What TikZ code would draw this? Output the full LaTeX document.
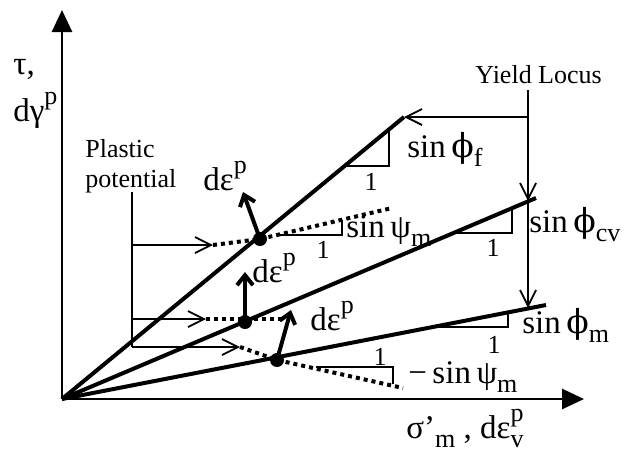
\documentclass[tikz,border=0pt]{standalone}
\usepackage{fontspec}
\setmainfont{Liberation Serif}
\newfontfamily\phif{DejaVu Serif}
\usetikzlibrary{arrows.meta}
\newcommand{\myup}[1]{\raisebox{0.5em}{\fontsize{13}{13}\selectfont #1}}
\newcommand{\mydn}[1]{\raisebox{-0.3em}{\fontsize{13}{13}\selectfont #1}}
\newcommand{\fphi}{{\phif ϕ}}
\begin{document}
\begin{tikzpicture}[x=0.5pt,y=-0.5pt,
  axis/.style={line width=1.4pt,-{Triangle[length=11pt,width=10pt]}},
  mainline/.style={line width=2pt},
  thinline/.style={line width=0.9pt},
  openarrow/.style={line width=0.9pt,-{Straight Barb[length=8pt,width=8pt,line width=0.9pt]}},
  vecarrow/.style={line width=2pt,-{Straight Barb[length=5pt,width=8pt,line width=2pt]}},
  dotline/.style={line width=2pt,dash pattern=on 2pt off 2pt},
  dotpt/.style={circle,fill,inner sep=0pt,minimum size=7pt},
  big/.style={font=\fontsize{16.5}{16.5}\selectfont,inner sep=0pt},
  med/.style={font=\fontsize{13}{15}\selectfont,inner sep=0pt},
  one/.style={font=\fontsize{13}{13}\selectfont,inner sep=0pt}]
\useasboundingbox (0,0) rectangle (625,452);
% axes
\coordinate (O) at (62,399);
\coordinate (Ytop) at (62,10);
\coordinate (Xend) at (584,399);
\draw[axis] (O) -- (Ytop);
\draw[axis] (O) -- (Xend);
% main lines
\coordinate (A) at (404,117);
\coordinate (B) at (536,198);
\coordinate (C) at (546,305);
\draw[mainline] (O) -- (A);
\draw[mainline] (O) -- (B);
\draw[mainline] (O) -- (C);
% slope triangles
\draw[thinline] (345,166) -- (389,166) -- (389,129);
\draw[thinline] (453,233) -- (512,233) -- (512,208);
\draw[thinline] (433,327) -- (508,327) -- (508,312);
\node[one] (o1) at (371,182) {1};
\node[one] (o2) at (493,248) {1};
\node[one] (o3) at (494,345) {1};
\node[big,anchor=base west] (sf) at (407,157) {sin\,\fphi\mydn{f}};
\node[big,anchor=base west] (scv) at (529,232) {sin\,\fphi\mydn{cv}};
\node[big,anchor=base west] (sm) at (522,333) {sin\,\fphi\mydn{m}};
% yield locus
\node[med,anchor=base west] (yl) at (475,83) {Yield Locus};
\coordinate (Y1) at (528,90);
\coordinate (Yc) at (528,117);
\coordinate (Ycv) at (528,201);
\coordinate (Ym) at (528,308);
\draw[thinline] (Y1) -- (Yc);
\draw[openarrow] (Yc) -- (A);
\draw[openarrow] (Yc) -- (Ycv);
\draw[openarrow] (Ycv) -- (Ym);
% plastic potential
\node[med,anchor=base west] (pp1) at (85,157) {Plastic};
\node[med,anchor=base west] (pp2) at (85,187) {potential};
\coordinate (Q0) at (132,192);
\coordinate (Q1) at (132,245);
\coordinate (Q2) at (132,319);
\coordinate (Q3) at (132,347);
\coordinate (R1) at (213,245);
\coordinate (R2) at (206,319);
\coordinate (R3) at (240,347);
\draw[thinline] (Q0) -- (Q3);
\draw[openarrow] (Q1) -- (R1);
\draw[openarrow] (Q2) -- (R2);
\draw[openarrow] (Q3) -- (R3);
% stress points
\coordinate (P1) at (260,239);
\coordinate (P2) at (245,322);
\coordinate (P3) at (277,360);
\coordinate (E1) at (392,208);
\coordinate (E2) at (283,319);
\coordinate (E3) at (403,388);
% plastic potential slope triangles
\draw[thinline] (277,235) -- (342,235) -- (342,220);
\draw[thinline] (316,367) -- (393,367) -- (393,384);
\draw[dotline] (R1) -- (P1) -- (E1);
\draw[dotline] (R2) -- (E2);
\draw[dotline] (R3) -- (P3) -- (E3);
\node[dotpt] (n1) at (P1) {};
\node[dotpt] (n2) at (P2) {};
\node[dotpt] (n3) at (P3) {};
\node[one] (o4) at (323,250) {1};
\node[one] (o5) at (380,357) {1};
\node[big,anchor=base west] (sp) at (346,237) {sin\,ψ\mydn{m}};
\node[big,anchor=base west] (msp) at (408,383) {−\,sin\,ψ\mydn{m}};
% plastic strain increment vectors
\coordinate (V1) at (243,192);
\coordinate (V2) at (245,272);
\coordinate (V3) at (291,310);
\draw[vecarrow] (P1) -- (V1);
\draw[vecarrow] (P2) -- (V2);
\draw[vecarrow] (P3) -- (V3);
\node[big,anchor=base west] (d1) at (203,190) {dε\myup{p}};
\node[big,anchor=base west] (d2) at (252,282) {dε\myup{p}};
\node[big,anchor=base west] (d3) at (310,330) {dε\myup{p}};
% axis labels
\node[big,anchor=base west] (tau) at (13,74) {τ,};
\node[big,anchor=base west] (dg) at (13,121) {dγ\myup{p}};
\node[big,anchor=base west] (sig) at (406,438) {σ'\mydn{m} , dε\rlap{\myup{p}}\mydn{v}};
\end{tikzpicture}
\end{document}
